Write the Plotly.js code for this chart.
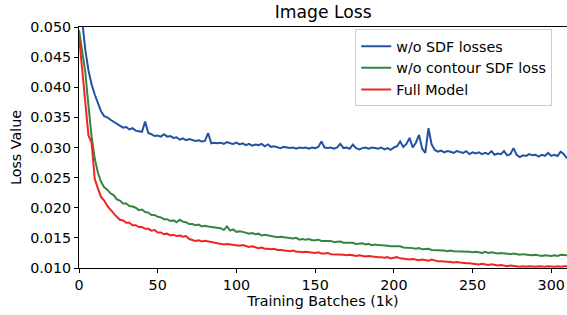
<!DOCTYPE html>
<html>
<head>
<meta charset="utf-8">
<script src="https://cdn.plot.ly/plotly-3.0.1.min.js"></script>
<style>html,body{margin:0;padding:0;background:#fff}#chart{width:567px;height:315px}</style>
</head>
<body>
<div id="chart"></div>
<script>
const batches = [0,2,4,6,8,10,12,14,16,18,20,22,24,26,28,30,32,34,36,38,40,42,44,46,48,50,52,54,56,58,60,62,64,66,68,70,72,74,76,78,80,82,84,86,88,90,92,94,96,98,100,102,104,106,108,110,112,114,116,118,120,122,124,126,128,130,132,134,136,138,140,142,144,146,148,150,152,154,156,158,160,162,164,166,168,170,172,174,176,178,180,182,184,186,188,190,192,194,196,198,200,202,204,206,208,210,212,214,216,218,220,222,224,226,228,230,232,234,236,238,240,242,244,246,248,250,252,254,256,258,260,262,264,266,268,270,272,274,276,278,280,282,284,286,288,290,292,294,296,298,300,302,304,306,308,310];

const noSdf = [0.0560,0.0505,0.0462,0.0428,0.0405,0.0388,0.0372,0.0360,0.0352,0.0350,0.0346,0.0343,0.0339,0.0336,0.0333,0.0334,0.0330,0.0332,0.0328,0.0327,0.0326,0.0343,0.0324,0.0322,0.0319,0.0320,0.0318,0.0322,0.0318,0.0319,0.0316,0.0317,0.0313,0.0315,0.0312,0.0314,0.0313,0.0311,0.0312,0.0310,0.0311,0.0324,0.0307,0.0308,0.0307,0.0308,0.0306,0.0309,0.0307,0.0306,0.0308,0.0305,0.0307,0.0304,0.0306,0.0303,0.0305,0.0304,0.0306,0.0302,0.0305,0.0301,0.0302,0.0300,0.0299,0.0301,0.0300,0.0299,0.0300,0.0298,0.0300,0.0299,0.0300,0.0298,0.0300,0.0299,0.0301,0.0310,0.0300,0.0299,0.0300,0.0298,0.0300,0.0306,0.0299,0.0300,0.0298,0.0305,0.0299,0.0297,0.0299,0.0300,0.0298,0.0300,0.0299,0.0298,0.0300,0.0297,0.0299,0.0296,0.0300,0.0302,0.0310,0.0301,0.0306,0.0316,0.0300,0.0308,0.0321,0.0298,0.0291,0.0332,0.0305,0.0296,0.0293,0.0295,0.0292,0.0294,0.0293,0.0291,0.0294,0.0292,0.0291,0.0294,0.0289,0.0292,0.0290,0.0292,0.0289,0.0291,0.0289,0.0294,0.0288,0.0290,0.0289,0.0294,0.0287,0.0289,0.0299,0.0288,0.0284,0.0287,0.0286,0.0289,0.0287,0.0288,0.0285,0.0288,0.0286,0.0291,0.0286,0.0288,0.0286,0.0293,0.0289,0.0282];

const noContour = [0.0495,0.0460,0.0425,0.0370,0.0318,0.0282,0.0258,0.0243,0.0234,0.0230,0.0224,0.0221,0.0214,0.0212,0.0207,0.0207,0.0203,0.0202,0.0200,0.0196,0.0197,0.0193,0.0192,0.0188,0.0188,0.0185,0.0184,0.0181,0.0181,0.0178,0.0179,0.0176,0.0180,0.0177,0.0176,0.0173,0.0173,0.0171,0.0172,0.0169,0.0170,0.0169,0.0168,0.0167,0.0167,0.0166,0.0163,0.0169,0.0162,0.0164,0.0160,0.0161,0.0160,0.0159,0.0157,0.0158,0.0156,0.0157,0.0154,0.0155,0.0154,0.0153,0.0153,0.0151,0.0152,0.0151,0.0150,0.0150,0.0149,0.0150,0.0147,0.0148,0.0147,0.0148,0.0146,0.0146,0.0147,0.0145,0.0145,0.0144,0.0145,0.0143,0.0143,0.0144,0.0142,0.0142,0.0141,0.0142,0.0140,0.0141,0.0141,0.0139,0.0140,0.0138,0.0139,0.0138,0.0138,0.0137,0.0137,0.0136,0.0136,0.0135,0.0136,0.0134,0.0134,0.0133,0.0133,0.0132,0.0133,0.0131,0.0131,0.0132,0.0130,0.0130,0.0129,0.0130,0.0129,0.0128,0.0129,0.0128,0.0128,0.0127,0.0128,0.0127,0.0127,0.0126,0.0127,0.0126,0.0125,0.0127,0.0125,0.0126,0.0125,0.0124,0.0125,0.0124,0.0124,0.0123,0.0124,0.0123,0.0122,0.0123,0.0122,0.0122,0.0121,0.0122,0.0121,0.0120,0.0121,0.0120,0.0120,0.0121,0.0120,0.0122,0.0121,0.0121];

const fullModel = [0.0485,0.0430,0.0380,0.0320,0.0308,0.0248,0.0232,0.0218,0.0212,0.0203,0.0197,0.0190,0.0185,0.0180,0.0179,0.0175,0.0175,0.0171,0.0171,0.0168,0.0168,0.0165,0.0165,0.0162,0.0163,0.0159,0.0159,0.0156,0.0157,0.0154,0.0155,0.0153,0.0154,0.0152,0.0153,0.0148,0.0146,0.0145,0.0146,0.0144,0.0145,0.0144,0.0143,0.0142,0.0142,0.0141,0.0139,0.0140,0.0139,0.0138,0.0138,0.0137,0.0138,0.0136,0.0135,0.0136,0.0134,0.0133,0.0134,0.0132,0.0132,0.0131,0.0132,0.0130,0.0130,0.0129,0.0129,0.0128,0.0129,0.0127,0.0127,0.0126,0.0127,0.0126,0.0125,0.0125,0.0126,0.0124,0.0124,0.0125,0.0123,0.0123,0.0122,0.0123,0.0122,0.0121,0.0122,0.0121,0.0120,0.0121,0.0120,0.0119,0.0120,0.0119,0.0119,0.0118,0.0118,0.0117,0.0118,0.0116,0.0117,0.0118,0.0116,0.0115,0.0115,0.0114,0.0115,0.0114,0.0113,0.0114,0.0113,0.0112,0.0114,0.0112,0.0111,0.0111,0.0111,0.0110,0.0110,0.0109,0.0110,0.0109,0.0108,0.0108,0.0108,0.0107,0.0107,0.0106,0.0107,0.0106,0.0105,0.0106,0.0105,0.0104,0.0105,0.0104,0.0103,0.0104,0.0103,0.0103,0.0102,0.0103,0.0102,0.0103,0.0102,0.0102,0.0103,0.0102,0.0102,0.0103,0.0102,0.0102,0.0103,0.0102,0.0103,0.0103];

const seriesNames = ['w/o SDF losses', 'w/o contour SDF loss', 'Full Model'];
const yTicks = [0.010, 0.015, 0.020, 0.025, 0.030, 0.035, 0.040, 0.045, 0.050];
const yTickText = ['0.010','0.015','0.020','0.025','0.030','0.035','0.040','0.045','0.050'];
const xTicks = [0, 50, 100, 150, 200, 250, 300];

const colors = ['#2352a3', '#37843f', '#ee2524'];
const seriesData = [noSdf, noContour, fullModel];

const traces = seriesData.map((ys, i) => ({
  x: batches, y: ys, type: 'scatter', mode: 'lines', name: seriesNames[i],
  line: {color: colors[i], width: 2}
}));

const font = {family: 'DejaVu Sans', size: 14.3, color: '#000'};

const layout = {
  width: 567, height: 315,
  margin: {l: 79, r: 0, t: 27, b: 47},
  paper_bgcolor: '#fff', plot_bgcolor: '#fff',
  font: font,
  title: {text: 'Image Loss', font: {family: 'DejaVu Sans', size: 17.2, color: '#000'}, x: 0.57, xanchor: 'center', y: 0.962, yanchor: 'middle'},
  showlegend: true,
  legend: {x: 0.566, y: 0.99, xanchor: 'left', yanchor: 'top', bgcolor: 'rgba(255,255,255,0.8)', bordercolor: '#cccccc', borderwidth: 1, font: {family: 'DejaVu Sans', size: 14.3, color: '#000'}, tracegroupgap: 0, itemwidth: 30},
  xaxis: {
    range: [0, 310], tickvals: xTicks, ticks: 'outside', ticklen: 4, tickwidth: 1, tickcolor: '#000',
    showline: true, linecolor: '#000', linewidth: 1, mirror: true, showgrid: false, zeroline: false,
    title: {text: 'Training Batches (1k)', font: font, standoff: 3}
  },
  yaxis: {
    range: [0.010, 0.050], tickvals: yTicks, ticktext: yTickText, ticks: 'outside', ticklen: 4, tickwidth: 1, tickcolor: '#000',
    showline: true, linecolor: '#000', linewidth: 1, showgrid: false, zeroline: false,
    title: {text: 'Loss Value', font: font, standoff: 5}
  }
};

Plotly.newPlot('chart', traces, layout, {displayModeBar: false, staticPlot: true});
</script>
</body>
</html>
